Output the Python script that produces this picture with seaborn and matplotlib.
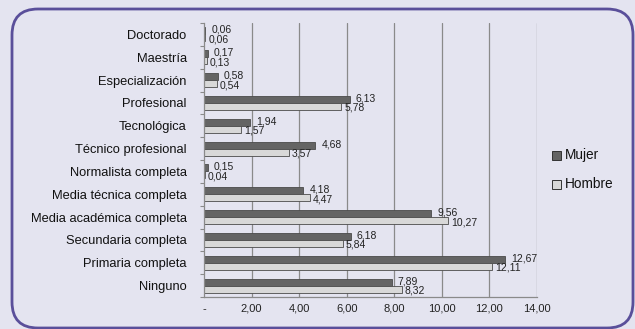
import matplotlib
matplotlib.use("Agg")
import matplotlib.pyplot as plt
from matplotlib.patches import FancyBboxPatch
import numpy as np
import pandas as pd
import seaborn as sns

categories = ["Doctorado", "Maestría", "Especialización", "Profesional", "Tecnológica",
              "Técnico profesional", "Normalista completa", "Media técnica completa",
              "Media académica completa", "Secundaria completa", "Primaria completa", "Ninguno"]
mujer = [0.06, 0.17, 0.58, 6.13, 1.94, 4.68, 0.15, 4.18, 9.56, 6.18, 12.67, 7.89]
hombre = [0.06, 0.13, 0.54, 5.78, 1.57, 3.57, 0.04, 4.47, 10.27, 5.84, 12.11, 8.32]
series = ["Mujer", "Hombre"]
x_ticks = [0, 2, 4, 6, 8, 10, 12, 14]
x_tick_labels = ["-", "2,00", "4,00", "6,00", "8,00", "10,00", "12,00", "14,00"]

df = pd.DataFrame({
    "Nivel": categories * 2,
    "Valor": mujer + hombre,
    "Sexo": [series[0]] * len(categories) + [series[1]] * len(categories),
})

bg = "#e4e4f0"
sns.set_theme(style="white")
plt.rcParams["font.family"] = ["Liberation Sans", "DejaVu Sans"]

W, H = 635, 329
fig = plt.figure(figsize=(W / 100, H / 100), dpi=100, facecolor=bg)

# background layer in pixel units, holding the rounded frame and the legend
bg_ax = fig.add_axes([0, 0, 1, 1], zorder=-1)
bg_ax.set_xlim(0, W)
bg_ax.set_ylim(H, 0)
bg_ax.axis("off")
bg_ax.add_patch(FancyBboxPatch((12, 9), 621, 319,
                               boxstyle="round,pad=0,rounding_size=26",
                               facecolor=bg, edgecolor="#5a4f9a", linewidth=2,
                               clip_on=False))

ax = fig.add_axes([204 / W, 1 - 297 / H, (537 - 204) / W, (297 - 23) / H])
ax.set_facecolor(bg)

palette = {"Mujer": "#646464", "Hombre": "#d8d8d8"}
sns.barplot(data=df, y="Nivel", x="Valor", hue="Sexo", order=categories,
            hue_order=series, palette=palette, orient="h", width=0.62,
            edgecolor="#4a4a4a", linewidth=0.6, ax=ax, legend=False, saturation=1)

ax.set_xlim(0, 14)
ax.set_ylim(len(categories) - 0.5, -0.5)
ax.set_xticks(x_ticks)
ax.set_xticklabels(x_tick_labels, fontsize=8, color="#222222")
ax.set_yticks(range(len(categories)))
ax.set_yticklabels(categories, fontsize=9.3, color="#111111")
ax.set_yticks(np.arange(-0.5, len(categories)), minor=True)
ax.set_xlabel("")
ax.set_ylabel("")
ax.tick_params(axis="y", which="major", length=0, pad=12.5)
ax.tick_params(axis="y", which="minor", left=True, length=3, width=0.8, color="#8a8a8a")
ax.tick_params(axis="x", length=0, pad=5)

for xv in x_ticks[1:]:
    ax.axvline(xv, color="#8a8a8a", linewidth=0.9, zorder=0)
for s in ["top", "right"]:
    ax.spines[s].set_visible(False)
ax.spines["left"].set_color("#8a8a8a")
ax.spines["bottom"].set_color("#8a8a8a")
ax.spines["left"].set_linewidth(0.9)
ax.spines["bottom"].set_linewidth(0.9)

# value labels next to each bar
for i, (m, h) in enumerate(zip(mujer, hombre)):
    ax.text(m + 0.25, i - 0.2, f"{m:.2f}".replace(".", ","), fontsize=7.5,
            va="center", ha="left", color="#222222")
    ax.text(h + 0.12, i + 0.22, f"{h:.2f}".replace(".", ","), fontsize=7.5,
            va="center", ha="left", color="#222222")

# legend
for name, yy in zip(series, [155, 184]):
    bg_ax.add_patch(plt.Rectangle((552, yy - 4.5), 9, 9, facecolor=palette[name],
                                  edgecolor="#333333", linewidth=0.7))
    bg_ax.text(565, yy, name, fontsize=9.8, va="center", ha="left", color="#111111")

fig.savefig("out.png", dpi=100, facecolor=bg)
